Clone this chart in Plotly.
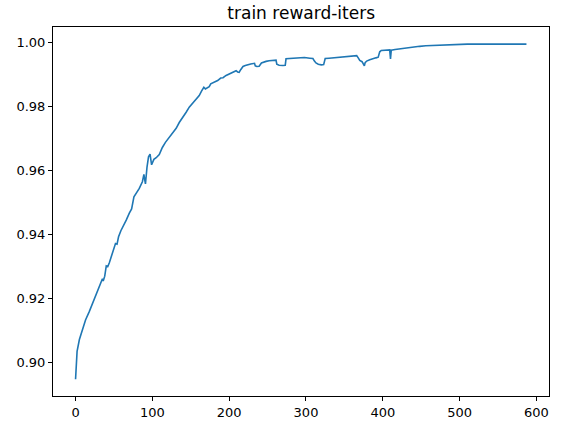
import plotly.graph_objects as go

# training iterations and reward
iters = [0, 1, 2, 5, 9, 13, 18, 24, 28, 31, 34, 35, 36, 38, 40, 42, 44, 48, 52, 54,
         56, 59, 63, 66, 70, 73, 76, 80, 83, 87, 89, 90, 91, 93, 95, 97, 98, 99, 102, 105,
         109, 113, 117, 122, 126, 131, 135, 139, 144, 148, 154, 158, 161, 164, 167, 169, 171, 174, 176, 181,
         185, 189, 192, 196, 199, 202, 206, 209, 211, 213, 215, 218, 221, 224, 228, 233, 234, 236, 239, 242,
         244, 248, 252, 256, 261, 262, 265, 270, 273, 274, 278, 285, 291, 298, 305, 309, 311, 313, 316, 320,
         323, 325, 330, 335, 340, 345, 350, 355, 361, 366, 368, 370, 373, 375, 376, 377, 379, 383, 387, 391,
         394, 396, 398, 402, 406, 409, 410, 411, 416, 422, 428, 433, 440, 448, 456, 465, 474, 485, 496, 510,
         525, 540, 555, 570, 587]
reward = [0.8948, 0.9003, 0.9035, 0.9072, 0.9103, 0.9133, 0.9160, 0.9195, 0.9218, 0.9233,
          0.9250, 0.9262, 0.9255, 0.9270, 0.9302, 0.9300, 0.9312, 0.9345, 0.9372, 0.9370,
          0.9393, 0.9412, 0.9430, 0.9445, 0.9467, 0.9480, 0.9518, 0.9533, 0.9544, 0.9565,
          0.9588, 0.9572, 0.9558, 0.9610, 0.9643, 0.9651, 0.9625, 0.9618, 0.9635, 0.9640,
          0.9650, 0.9672, 0.9688, 0.9705, 0.9718, 0.9732, 0.9750, 0.9763, 0.9782, 0.9798,
          0.9814, 0.9826, 0.9834, 0.9848, 0.9860, 0.9855, 0.9857, 0.9862, 0.9871, 0.9876,
          0.9881, 0.9889, 0.9890, 0.9897, 0.9901, 0.9904, 0.9908, 0.9912, 0.9908, 0.9907,
          0.9915, 0.9925, 0.9928, 0.9931, 0.9933, 0.9935, 0.9927, 0.9925, 0.9926, 0.9936,
          0.9938, 0.9941, 0.9943, 0.9944, 0.9945, 0.9932, 0.9929, 0.9928, 0.9929, 0.9949,
          0.9950, 0.9951, 0.9951, 0.9953, 0.9951, 0.9950, 0.9942, 0.9936, 0.9932, 0.9930,
          0.9931, 0.9950, 0.9951, 0.9952, 0.9953, 0.9954, 0.9954, 0.9956, 0.9957, 0.9959,
          0.9952, 0.9944, 0.9940, 0.9933, 0.9927, 0.9937, 0.9942, 0.9946, 0.9950, 0.9952,
          0.9954, 0.9971, 0.9975, 0.9976, 0.9977, 0.9977, 0.9949, 0.9976, 0.9978, 0.9980,
          0.9983, 0.9985, 0.9986, 0.9988, 0.9990, 0.9991, 0.9992, 0.9993, 0.9994, 0.9995,
          0.9995, 0.9996, 0.9995, 0.9995, 0.9995]

x_ticks = [0, 100, 200, 300, 400, 500, 600]
y_ticks = [0.90, 0.92, 0.94, 0.96, 0.98, 1.00]

# matplotlib-style 5% padding around the data
xpad = (max(iters) - min(iters)) * 0.05
ypad = (max(reward) - min(reward)) * 0.05

fig = go.Figure()
fig.add_trace(go.Scatter(
    x=iters,
    y=reward,
    mode='lines',
    line=dict(color='#1f77b4', width=1.6),
    showlegend=False
))

axis_style = dict(
    showline=True, mirror=True, linecolor='black', linewidth=1,
    ticks='outside', ticklen=4, tickwidth=1, tickcolor='black',
    showgrid=False, zeroline=False, automargin=False,
    tickfont=dict(family='DejaVu Sans', size=13, color='black')
)

fig.update_layout(
    width=564, height=431,
    margin=dict(l=53, r=15, t=27, b=35),
    paper_bgcolor='white', plot_bgcolor='white',
    title=dict(text='train reward-iters', x=0.534, xanchor='center',
               y=1 - 13 / 431, yanchor='middle', yref='container',
               font=dict(family='DejaVu Sans', size=17, color='black')),
    xaxis=dict(range=[min(iters) - xpad, max(iters) + xpad],
               tickvals=x_ticks, **axis_style),
    yaxis=dict(range=[min(reward) - ypad, max(reward) + ypad],
               tickvals=y_ticks, tickformat='.2f', **axis_style),
)

# drop the browser's default 8px body margin so the figure sits at the corner
fig.write_html("out.html", config={'displayModeBar': False},
               post_script="document.body.style.margin='0px';")
